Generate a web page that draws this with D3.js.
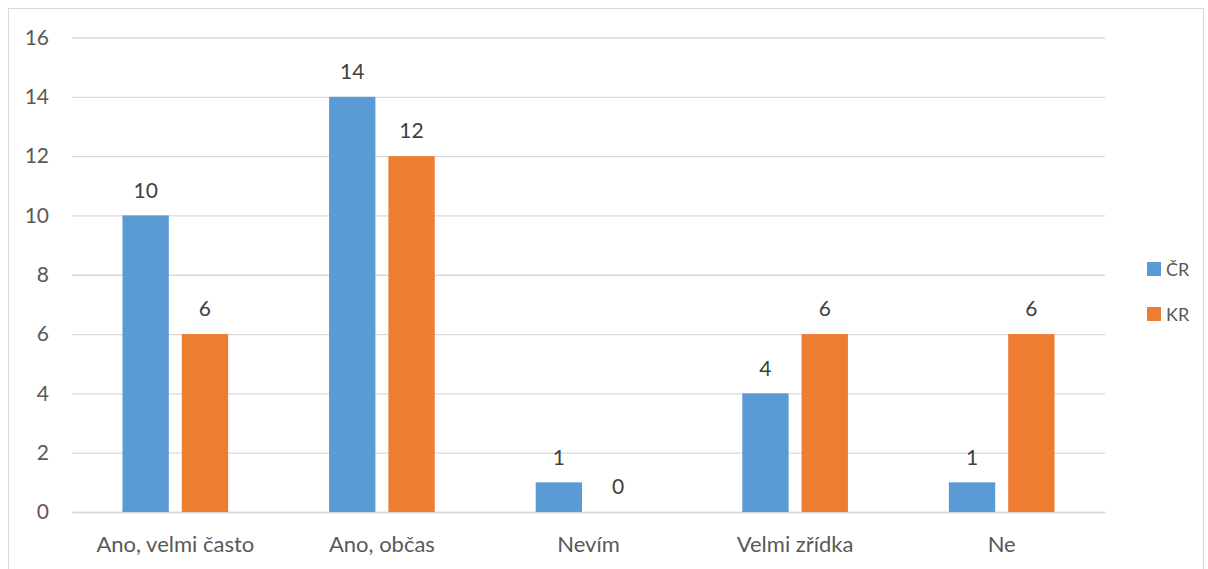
<!DOCTYPE html>
<html><head><meta charset="utf-8">
<script src="https://cdn.jsdelivr.net/npm/d3@7"></script>
<style>html,body{margin:0;padding:0;background:#fff;}svg{display:block;font-family:Lato,"Open Sans",sans-serif;}</style>
</head><body>
<svg id="c" width="1208" height="569"></svg>
<script>
const categories = ["Ano, velmi často","Ano, občas","Nevím","Velmi zřídka","Ne"];
const seriesNames = ["ČR","KR"];
const valuesCR = [10,14,1,4,1];
const valuesKR = [6,12,0,6,6];
const yTicks = [0,2,4,6,8,10,12,14,16];
const colors = ["#5B9BD5","#ED7D31"];

(function(){
const svg = d3.select("#c");
svg.append("rect").attr("x",8.5).attr("y",8.5).attr("width",1195).attr("height",580)
  .attr("fill","none").attr("stroke","#D9D9D9");

const pl=72, pr=1105, pt=37.5, pb=512;
const x = d3.scaleBand().domain(categories).range([pl,pr]).paddingInner(0).paddingOuter(0);
const y = d3.scaleLinear().domain([0,16]).range([pb,pt]);
const xs = d3.scaleBand().domain(seriesNames).range([0,x.bandwidth()]).paddingInner(0.219).paddingOuter(0.851);

const yAxis = d3.axisLeft(y).tickValues(yTicks).tickSize(-(pr-pl)).tickPadding(23);
const gy = svg.append("g").attr("transform",`translate(${pl},0)`).call(yAxis);
gy.select(".domain").remove();
gy.selectAll(".tick line").attr("stroke","#D9D9D9").attr("stroke-width",1.3);
gy.selectAll(".tick text").attr("fill","#595959").style("font-size","21px").attr("font-family","Lato");

const xAxis = d3.axisBottom(x).tickSize(0).tickPadding(24);
const gx = svg.append("g").attr("transform",`translate(0,${pb})`).call(xAxis);
gx.select(".domain").attr("stroke","#D9D9D9").attr("stroke-width",1.3);
gx.selectAll(".tick text").attr("fill","#595959").style("font-size","22px").attr("font-family","Lato");

const data = categories.map((c,i)=>({cat:c, vals:[{s:"ČR",v:valuesCR[i]},{s:"KR",v:valuesKR[i]}]}));
const g = svg.selectAll("g.cat").data(data).enter().append("g").attr("class","cat")
  .attr("transform",d=>`translate(${x(d.cat)},0)`);
g.selectAll("rect").data(d=>d.vals).enter().append("rect")
  .attr("x",d=>xs(d.s)).attr("width",xs.bandwidth())
  .attr("y",d=>y(d.v)).attr("height",d=>pb-y(d.v))
  .attr("fill",(d,i)=>colors[i]);
g.selectAll("text.val").data(d=>d.vals).enter().append("text").attr("class","val")
  .attr("x",d=>xs(d.s)+xs.bandwidth()/2).attr("y",d=>y(d.v)-17.7)
  .attr("text-anchor","middle").attr("fill","#404040").style("font-size","21px")
  .text(d=>d.v);

const lg = svg.append("g").attr("transform","translate(1147,262)");
seriesNames.forEach((s,i)=>{
  const r = lg.append("g").attr("transform",`translate(0,${i*45})`);
  r.append("rect").attr("width",14).attr("height",14).attr("fill",colors[i]);
  r.append("text").attr("x",19).attr("y",14).attr("fill","#595959").style("font-size","18px").text(s);
});
})();
</script>
</body></html>
